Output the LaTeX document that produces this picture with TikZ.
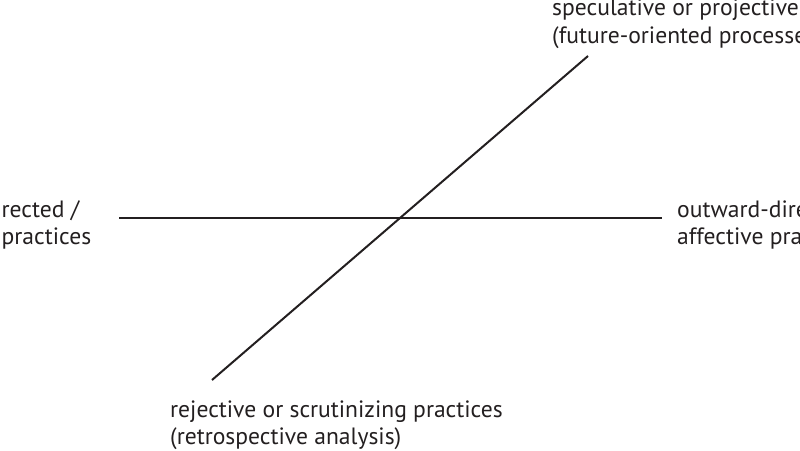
\documentclass[tikz,border=0pt]{standalone}
\usepackage{fontspec}
\setmainfont{PT Sans}
\definecolor{ink}{HTML}{231F20}
\begin{document}
\begin{tikzpicture}[x=1pt,y=-1pt,
  lbl/.style={anchor=base west, inner sep=0pt, font=\fontsize{23.6}{27}\selectfont, text=ink},
  axisline/.style={draw=ink, line width=2pt}]
\useasboundingbox (0,0) rectangle (800,450);
\clip (0,0) rectangle (800,450);
\coordinate (hL) at (119,217.5);
\coordinate (hR) at (662,217.5);
\coordinate (dT) at (588,56);
\coordinate (dB) at (212,380);
\draw[axisline] (hL) -- (hR);
\draw[axisline] (dB) -- (dT);
\node[lbl] (t1) at (552,15.5) {speculative or projective};
\node[lbl] (t2) at (552,43) {(future-oriented processe};
\node[lbl] (l1) at (1.5,217) {rected /};
\node[lbl] (l2) at (1.5,244) {practices};
\node[lbl] (r1) at (677,217) {outward-dire};
\node[lbl] (r2) at (677,244) {affective pra};
\node[lbl] (b1) at (170,417) {rejective or scrutinizing practices};
\node[lbl] (b2) at (170,444) {(retrospective analysis)};
\end{tikzpicture}
\end{document}
